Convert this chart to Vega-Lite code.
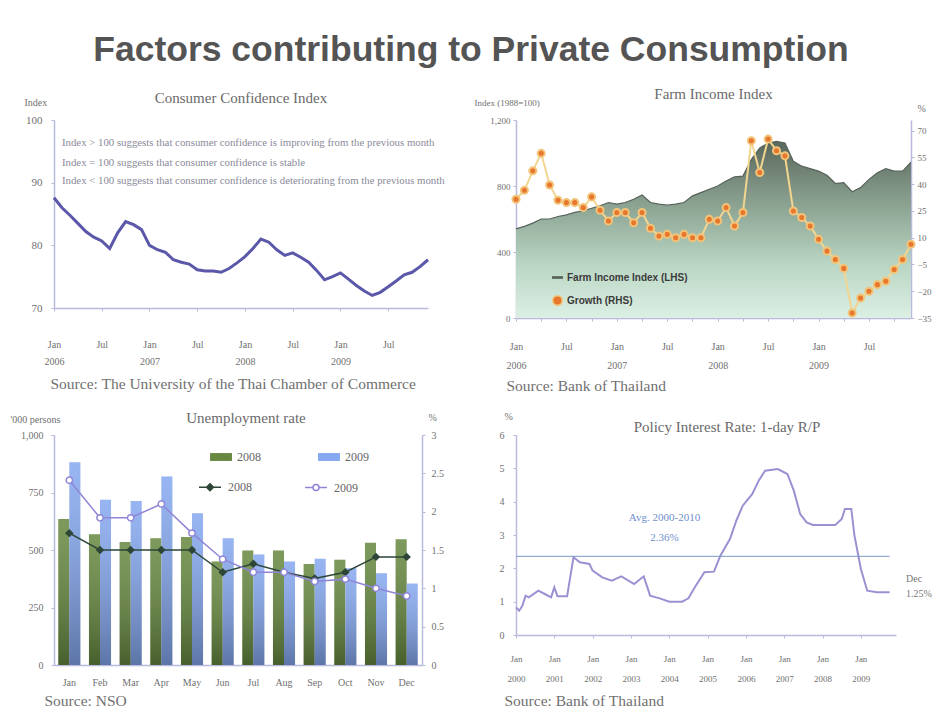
{
  "$schema": "https://vega.github.io/schema/vega-lite/v6.json",
  "background": "white",
  "padding": {"left": 10, "top": 32, "right": 0, "bottom": 0},
  "title": {"text": "Factors contributing to Private Consumption", "font": "Liberation Sans", "fontSize": 35.5, "fontWeight": "bold", "color": "#545454", "anchor": "middle", "offset": 19, "frame": "bounds"},
  "columns": 2,
  "spacing": {"row": 117, "column": 88},
  "bounds": "flush",
  "resolve": {
    "scale": {"color": "independent", "stroke": "independent", "fill": "independent", "shape": "independent"},
    "legend": {"color": "independent", "stroke": "independent", "fill": "independent", "shape": "independent"}
  },
  "concat": [
    {
      "width": 374, "height": 188,
      "title": {"text": "Consumer Confidence Index", "offset": -9},
      "layer": [
        {
          "data": {"values": [
            {"m":0,"cci":87.6},{"m":1,"cci":86.0},{"m":2,"cci":84.8},{"m":3,"cci":83.5},{"m":4,"cci":82.2},{"m":5,"cci":81.3},
            {"m":6,"cci":80.7},{"m":7,"cci":79.5},{"m":8,"cci":82.0},{"m":9,"cci":83.8},{"m":10,"cci":83.3},{"m":11,"cci":82.5},
            {"m":12,"cci":80.0},{"m":13,"cci":79.3},{"m":14,"cci":78.9},{"m":15,"cci":77.7},{"m":16,"cci":77.3},{"m":17,"cci":77.0},
            {"m":18,"cci":76.1},{"m":19,"cci":75.9},{"m":20,"cci":75.9},{"m":21,"cci":75.7},{"m":22,"cci":76.3},{"m":23,"cci":77.2},
            {"m":24,"cci":78.2},{"m":25,"cci":79.5},{"m":26,"cci":81.0},{"m":27,"cci":80.5},{"m":28,"cci":79.3},{"m":29,"cci":78.4},
            {"m":30,"cci":78.8},{"m":31,"cci":78.1},{"m":32,"cci":77.3},{"m":33,"cci":76.0},{"m":34,"cci":74.5},{"m":35,"cci":75.0},
            {"m":36,"cci":75.6},{"m":37,"cci":74.6},{"m":38,"cci":73.6},{"m":39,"cci":72.7},{"m":40,"cci":72.0},{"m":41,"cci":72.5},
            {"m":42,"cci":73.4},{"m":43,"cci":74.3},{"m":44,"cci":75.3},{"m":45,"cci":75.7},{"m":46,"cci":76.6},{"m":47,"cci":77.7}
          ]},
          "mark": {"type": "line", "color": "#5b57a9", "strokeWidth": 3},
          "encoding": {
            "x": {"field": "m", "type": "quantitative", "scale": {"domain": [0, 47], "nice": false},
              "axis": {"values": [0,3,6,9,12,15,18,21,24,27,30,33,36,39,42,45],
                "labelExpr": "datum.value % 12 === 0 ? ['Jan', '' + (2006 + datum.value / 12)] : (datum.value % 12 === 6 ? 'Jul' : '')",
                "labelOverlap": false, "labelFlush": false, "labelPadding": 28, "labelLineHeight": 17, "labelFontSize": 10,
                "title": "Source: The University of the Thai Chamber of Commerce", "titleFontSize": 15.5,
                "titleAnchor": "start", "titleAlign": "left", "titleBaseline": "alphabetic", "titleX": -4, "titleY": 80}},
            "y": {"field": "cci", "type": "quantitative", "scale": {"domain": [70, 100]},
              "axis": {"values": [70, 80, 90, 100], "labelOverlap": false, "labelPadding": 9, "labelFontSize": 11,
                "title": "Index", "titleAngle": 0, "titleAlign": "left", "titleBaseline": "middle", "titleX": -30, "titleY": -18, "titleFontSize": 10}}
          }
        },
        {
          "data": {"values": [
            {"m": 1, "v": 96.4, "t": "Index > 100 suggests that consumer confidence is improving from the previous month"},
            {"m": 1, "v": 93.2, "t": "Index = 100 suggests that consumer confidence is stable"},
            {"m": 1, "v": 90.2, "t": "Index < 100 suggests that consumer confidence is deteriorating from the previous month"}
          ]},
          "mark": {"type": "text", "align": "left", "baseline": "middle", "fontSize": 10.8, "color": "#8a8a9a"},
          "encoding": {
            "x": {"field": "m", "type": "quantitative"},
            "y": {"field": "v", "type": "quantitative"},
            "text": {"field": "t"}
          }
        }
      ]
    },
    {
      "width": 395, "height": 198,
      "title": {"text": "Farm Income Index", "offset": -4},
      "data": {"values": [
        {"m":0,"idx":540,"g":31.6},{"m":1,"idx":555,"g":36.6},{"m":2,"idx":575,"g":47.5},{"m":3,"idx":600,"g":57.3},
        {"m":4,"idx":600,"g":39.6},{"m":5,"idx":615,"g":31.0},{"m":6,"idx":625,"g":29.7},{"m":7,"idx":640,"g":29.7},
        {"m":8,"idx":650,"g":26.9},{"m":9,"idx":665,"g":32.9},{"m":10,"idx":680,"g":25.4},{"m":11,"idx":700,"g":19.4},
        {"m":12,"idx":690,"g":24.1},{"m":13,"idx":700,"g":24.1},{"m":14,"idx":720,"g":18.4},{"m":15,"idx":745,"g":24.1},
        {"m":16,"idx":700,"g":15.3},{"m":17,"idx":690,"g":10.9},{"m":18,"idx":685,"g":11.9},{"m":19,"idx":690,"g":10.0},
        {"m":20,"idx":700,"g":11.9},{"m":21,"idx":740,"g":10.0},{"m":22,"idx":760,"g":10.0},{"m":23,"idx":780,"g":20.3},
        {"m":24,"idx":800,"g":19.4},{"m":25,"idx":830,"g":26.9},{"m":26,"idx":855,"g":16.6},{"m":27,"idx":860,"g":24.1},
        {"m":28,"idx":960,"g":64.4},{"m":29,"idx":1030,"g":46.6},{"m":30,"idx":1060,"g":65.3},{"m":31,"idx":1070,"g":58.8},
        {"m":32,"idx":1060,"g":55.9},{"m":33,"idx":950,"g":25.0},{"m":34,"idx":920,"g":21.3},{"m":35,"idx":905,"g":16.6},
        {"m":36,"idx":890,"g":9.1},{"m":37,"idx":865,"g":2.5},{"m":38,"idx":815,"g":-2.2},{"m":39,"idx":820,"g":-7.2},
        {"m":40,"idx":765,"g":-32.2},{"m":41,"idx":790,"g":-23.8},{"m":42,"idx":840,"g":-20.0},{"m":43,"idx":880,"g":-16.3},
        {"m":44,"idx":905,"g":-14.4},{"m":45,"idx":890,"g":-7.8},{"m":46,"idx":890,"g":-2.2},{"m":47,"idx":945,"g":6.3}
      ]},
      "encoding": {
        "x": {"field": "m", "type": "quantitative", "scale": {"domain": [0, 47], "nice": false},
          "axis": {"values": [0,3,6,9,12,15,18,21,24,27,30,33,36,39,42,45],
            "labelExpr": "datum.value % 12 === 0 ? ['Jan', '' + (2006 + datum.value / 12)] : (datum.value % 12 === 6 ? 'Jul' : '')",
            "labelOverlap": false, "labelFlush": false, "labelPadding": 20, "labelLineHeight": 19, "labelFontSize": 10,
            "title": "Source: Bank of Thailand", "titleFontSize": 15.5,
            "titleAnchor": "start", "titleAlign": "left", "titleBaseline": "alphabetic", "titleX": -10, "titleY": 72}}
      },
      "layer": [
        {
          "encoding": {
            "y": {"field": "idx", "type": "quantitative", "scale": {"domain": [0, 1200]},
              "axis": {"values": [0, 400, 800, 1200], "format": ",.0f", "labelOverlap": false, "labelPadding": 3, "labelFontSize": 9,
                "title": "Index (1988=100)", "titleAngle": 0, "titleAlign": "left", "titleBaseline": "middle", "titleX": -42, "titleY": -18, "titleFontSize": 9}}
          },
          "layer": [
            {
              "mark": {"type": "area", "fill": {"gradient": "linear", "x1": 0, "y1": 0, "x2": 0, "y2": 1,
                "stops": [{"offset": 0, "color": "#5a675c"}, {"offset": 0.35, "color": "#8aa190"}, {"offset": 0.7, "color": "#bad6c4"}, {"offset": 1, "color": "#dcefe4"}]}}
            },
            {
              "mark": {"type": "line", "strokeWidth": 1.2},
              "encoding": {
                "stroke": {"datum": "Farm Income Index (LHS)", "type": "nominal",
                  "scale": {"domain": ["Farm Income Index (LHS)", "Growth (RHS)"], "range": ["#56625a", "#f2c47a"]},
                  "legend": {"orient": "none", "legendX": 36, "legendY": 152, "direction": "vertical", "title": null, "labelFont": "Liberation Sans", "labelFontSize": 10, "labelFontWeight": "bold", "labelColor": "#3a3a3a", "rowPadding": 9, "symbolSize": 90,
                    "encode": {"symbols": {"update": {
                      "shape": {"signal": "datum.value === 'Growth (RHS)' ? 'circle' : 'M-1,-0.12H1V0.12H-1Z'"},
                      "fill": {"signal": "datum.value === 'Growth (RHS)' ? '#e8772e' : '#56625a'"},
                      "stroke": {"signal": "datum.value === 'Growth (RHS)' ? '#f2c47a' : '#56625a'"}}}}}}
              }
            }
          ]
        },
        {
          "encoding": {
            "y": {"field": "g", "type": "quantitative", "scale": {"domain": [-35, 76]},
              "axis": {"orient": "right", "values": [-35, -20, -5, 10, 25, 40, 55, 70], "labelOverlap": false, "labelPadding": 3, "labelFontSize": 9,
                "title": "%", "titleAngle": 0, "titleAlign": "left", "titleBaseline": "middle", "titleX": 6, "titleY": -12, "titleFontSize": 10}}
          },
          "layer": [
            {
              "mark": {"type": "line", "color": "#f2d690", "strokeWidth": 2}
            },
            {
              "mark": {"type": "point", "filled": true, "fill": "#e8772e", "size": 50, "strokeWidth": 2, "opacity": 1},
              "encoding": {
                "stroke": {"datum": "Growth (RHS)", "type": "nominal"}
              }
            }
          ]
        }
      ],
      "resolve": {"scale": {"y": "independent"}}
    },
    {
      "width": 368, "height": 230,
      "title": {"text": "Unemployment rate", "offset": -14, "dx": 8},
      "layer": [
        {
          "data": {"values": [
            {"month":"Jan","year":"2008","persons":635},{"month":"Jan","year":"2009","persons":882},
            {"month":"Feb","year":"2008","persons":569},{"month":"Feb","year":"2009","persons":719},
            {"month":"Mar","year":"2008","persons":535},{"month":"Mar","year":"2009","persons":713},
            {"month":"Apr","year":"2008","persons":551},{"month":"Apr","year":"2009","persons":820},
            {"month":"May","year":"2008","persons":557},{"month":"May","year":"2009","persons":660},
            {"month":"Jun","year":"2008","persons":450},{"month":"Jun","year":"2009","persons":551},
            {"month":"Jul","year":"2008","persons":498},{"month":"Jul","year":"2009","persons":480},
            {"month":"Aug","year":"2008","persons":498},{"month":"Aug","year":"2009","persons":450},
            {"month":"Sep","year":"2008","persons":439},{"month":"Sep","year":"2009","persons":462},
            {"month":"Oct","year":"2008","persons":458},{"month":"Oct","year":"2009","persons":421},
            {"month":"Nov","year":"2008","persons":532},{"month":"Nov","year":"2009","persons":399},
            {"month":"Dec","year":"2008","persons":547},{"month":"Dec","year":"2009","persons":354}
          ]},
          "encoding": {
            "x": {"field": "month", "type": "nominal", "sort": ["Jan","Feb","Mar","Apr","May","Jun","Jul","Aug","Sep","Oct","Nov","Dec"],
              "scale": {"paddingInner": 0.28, "paddingOuter": 0.14},
              "axis": {"labelAngle": 0, "ticks": false, "labelPadding": 12, "labelFontSize": 10,
                "title": "Source: NSO", "titleFontSize": 15.5, "titleAnchor": "start", "titleAlign": "left", "titleBaseline": "alphabetic", "titleX": -10, "titleY": 40}},
            "xOffset": {"field": "year", "type": "nominal"},
            "y": {"field": "persons", "type": "quantitative", "scale": {"domain": [0, 1000]},
              "axis": {"values": [0, 250, 500, 750, 1000], "format": ",.0f", "labelOverlap": false, "labelPadding": 8, "labelFontSize": 10,
                "title": "'000 persons", "titleAngle": 0, "titleAlign": "left", "titleBaseline": "middle", "titleX": -44, "titleY": -16, "titleFontSize": 10}}
          },
          "layer": [
            {
              "mark": {"type": "bar"},
              "encoding": {
                "color": {"field": "year", "type": "nominal", "scale": {"range": ["#66883f", "#85a8f0"]},
                  "legend": {"orient": "none", "legendX": 155, "legendY": 10, "direction": "horizontal", "title": null,
                    "symbolType": "M-1,-0.36H1V0.36H-1Z", "symbolSize": 480, "symbolOpacity": 1, "labelFontSize": 12, "labelColor": "#666", "columnPadding": 56}}
              }
            },
            {
              "mark": {"type": "bar", "fill": {"gradient": "linear", "x1": 0, "y1": 0, "x2": 0, "y2": 1,
                "stops": [{"offset": 0, "color": "rgba(255,255,255,0.15)"}, {"offset": 1, "color": "rgba(0,0,0,0.3)"}]}}
            }
          ]
        },
        {
          "data": {"values": [
            {"month":"Jan","series":"2008","rate":1.72},{"month":"Feb","series":"2008","rate":1.50},{"month":"Mar","series":"2008","rate":1.50},
            {"month":"Apr","series":"2008","rate":1.50},{"month":"May","series":"2008","rate":1.50},{"month":"Jun","series":"2008","rate":1.21},
            {"month":"Jul","series":"2008","rate":1.32},{"month":"Aug","series":"2008","rate":1.21},{"month":"Sep","series":"2008","rate":1.13},
            {"month":"Oct","series":"2008","rate":1.21},{"month":"Nov","series":"2008","rate":1.41},{"month":"Dec","series":"2008","rate":1.41},
            {"month":"Jan","series":"2009","rate":2.41},{"month":"Feb","series":"2009","rate":1.92},{"month":"Mar","series":"2009","rate":1.92},
            {"month":"Apr","series":"2009","rate":2.10},{"month":"May","series":"2009","rate":1.72},{"month":"Jun","series":"2009","rate":1.38},
            {"month":"Jul","series":"2009","rate":1.21},{"month":"Aug","series":"2009","rate":1.21},{"month":"Sep","series":"2009","rate":1.09},
            {"month":"Oct","series":"2009","rate":1.12},{"month":"Nov","series":"2009","rate":1.00},{"month":"Dec","series":"2009","rate":0.90}
          ]},
          "encoding": {
            "x": {"field": "month", "type": "nominal", "sort": ["Jan","Feb","Mar","Apr","May","Jun","Jul","Aug","Sep","Oct","Nov","Dec"]},
            "y": {"field": "rate", "type": "quantitative", "scale": {"domain": [0, 3]},
              "axis": {"orient": "right", "values": [0, 0.5, 1, 1.5, 2, 2.5, 3], "format": "~g", "labelOverlap": false, "labelPadding": 6, "labelFontSize": 10,
                "title": "%", "titleAngle": 0, "titleAlign": "left", "titleBaseline": "middle", "titleX": 6, "titleY": -18, "titleFontSize": 10}}
          },
          "layer": [
            {
              "mark": {"type": "line", "strokeWidth": 1.5},
              "encoding": {
                "stroke": {"field": "series", "type": "nominal", "scale": {"range": ["#2d4637", "#8f86d8"]},
                  "legend": {"orient": "none", "legendX": 150, "legendY": 46, "direction": "horizontal", "title": null,
                    "labelFontSize": 12, "labelColor": "#666", "columnPadding": 50, "symbolSize": 100, "symbolStrokeWidth": 1.5, "labelOffset": 12,
                    "encode": {"symbols": {"update": {
                      "shape": {"signal": "datum.value === '2008' ? 'M-2.2,0H2.2M0,-0.7L0.7,0L0,0.7L-0.7,0Z' : 'M-2.2,0H-0.6M0.6,0H2.2M0.6,0A0.6,0.6,0,1,1,-0.6,0A0.6,0.6,0,1,1,0.6,0Z'"},
                      "fill": {"signal": "datum.value === '2008' ? '#2d4637' : '#ffffff'"}}}}}}
              }
            },
            {
              "mark": {"type": "point", "filled": true, "size": 40, "strokeWidth": 1.5, "opacity": 1},
              "encoding": {
                "stroke": {"field": "series", "type": "nominal"},
                "fill": {"field": "series", "type": "nominal", "scale": {"range": ["#2d4637", "#ffffff"]}, "legend": null},
                "shape": {"field": "series", "type": "nominal", "scale": {"range": ["diamond", "circle"]}, "legend": null}
              }
            }
          ]
        }
      ],
      "resolve": {"scale": {"y": "independent"}}
    },
    {
      "width": 380, "height": 200,
      "title": {"text": "Policy Interest Rate: 1-day R/P", "offset": -24, "dx": 21},
      "encoding": {
        "x": {"field": "m", "type": "quantitative", "scale": {"domain": [0, 119], "nice": false},
          "axis": {"values": [0,12,24,36,48,60,72,84,96,108],
            "labelExpr": "['Jan', '' + (2000 + datum.value / 12)]",
            "labelOverlap": false, "labelFlush": false, "labelPadding": 16, "labelLineHeight": 20, "labelFontSize": 9,
            "title": "Source: Bank of Thailand", "titleFontSize": 15.5, "titleAnchor": "start", "titleAlign": "left", "titleBaseline": "alphabetic", "titleX": -12, "titleY": 70}},
        "y": {"field": "r", "type": "quantitative", "scale": {"domain": [0, 6]},
          "axis": {"values": [0,1,2,3,4,5,6], "labelOverlap": false, "labelPadding": 9, "labelFontSize": 10,
            "title": "%", "titleAngle": 0, "titleAlign": "left", "titleBaseline": "middle", "titleX": -12, "titleY": -19, "titleFontSize": 10}}
      },
      "layer": [
        {
          "data": {"values": [
            {"m":0,"r":0.83},{"m":1,"r":0.73},{"m":2,"r":0.88},{"m":3,"r":1.18},{"m":4,"r":1.13},{"m":7,"r":1.33},
            {"m":9,"r":1.23},{"m":11,"r":1.13},{"m":12,"r":1.43},{"m":13,"r":1.16},{"m":16,"r":1.16},{"m":18,"r":2.33},
            {"m":20,"r":2.18},{"m":23,"r":2.13},{"m":24,"r":1.93},{"m":27,"r":1.73},{"m":30,"r":1.63},{"m":33,"r":1.76},
            {"m":37,"r":1.53},{"m":40,"r":1.76},{"m":42,"r":1.18},{"m":45,"r":1.10},{"m":48,"r":1.00},{"m":52,"r":1.00},
            {"m":54,"r":1.10},{"m":56,"r":1.43},{"m":59,"r":1.88},{"m":62,"r":1.90},{"m":64,"r":2.38},{"m":67,"r":2.88},
            {"m":69,"r":3.43},{"m":71,"r":3.88},{"m":74,"r":4.23},{"m":76,"r":4.63},{"m":78,"r":4.93},{"m":82,"r":4.98},
            {"m":85,"r":4.83},{"m":87,"r":4.33},{"m":89,"r":3.63},{"m":91,"r":3.38},{"m":93,"r":3.30},{"m":100,"r":3.30},
            {"m":102,"r":3.48},{"m":103,"r":3.78},{"m":105,"r":3.78},{"m":106,"r":2.98},{"m":108,"r":1.98},{"m":110,"r":1.33},
            {"m":113,"r":1.28},{"m":117,"r":1.28}
          ]},
          "mark": {"type": "line", "color": "#9d90d2", "strokeWidth": 2}
        },
        {
          "data": {"values": [{"m": 0, "m2": 117, "r": 2.36}]},
          "mark": {"type": "rule", "color": "#7d98c6", "strokeWidth": 1},
          "encoding": {"x2": {"field": "m2"}}
        },
        {
          "data": {"values": [{"m": 46.5, "r": 3.5, "t": "Avg. 2000-2010"}, {"m": 46.5, "r": 2.9, "t": "2.36%"}]},
          "mark": {"type": "text", "align": "center", "baseline": "middle", "fontSize": 11, "color": "#6f8fcb"},
          "encoding": {"text": {"field": "t"}}
        },
        {
          "data": {"values": [{"m": 119, "r": 1.68, "t": "Dec"}, {"m": 119, "r": 1.23, "t": "1.25%"}]},
          "mark": {"type": "text", "align": "left", "baseline": "middle", "fontSize": 10, "color": "#777777", "dx": 10},
          "encoding": {"text": {"field": "t"}}
        }
      ]
    }
  ],
  "config": {
    "font": "Liberation Serif",
    "view": {"stroke": null},
    "axis": {"grid": false, "labelOverlap": false, "domainColor": "#b9b9dd", "tickColor": "#b9b9dd", "labelColor": "#707070", "titleColor": "#707070",
      "labelFont": "Liberation Serif", "titleFont": "Liberation Serif", "titleFontWeight": "normal", "tickSize": 3, "domainWidth": 1.5},
    "title": {"font": "Liberation Serif", "fontWeight": "normal", "color": "#6a6a6a", "fontSize": 15, "frame": "group"},
    "legend": {"labelFont": "Liberation Serif", "labelColor": "#666666"},
    "text": {"font": "Liberation Serif"}
  }
}
